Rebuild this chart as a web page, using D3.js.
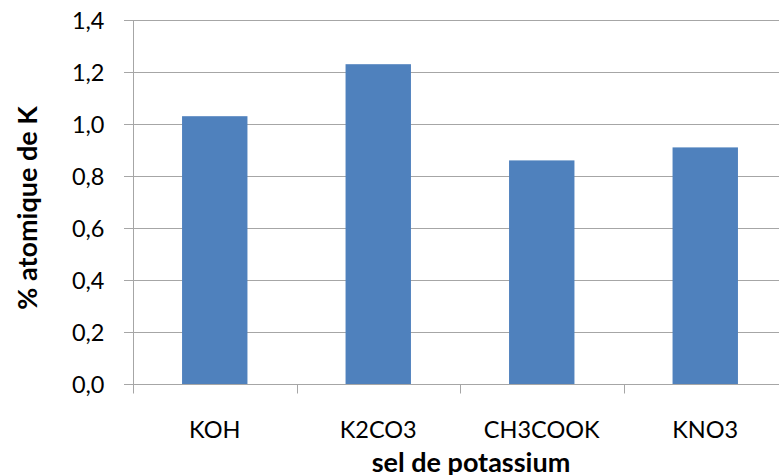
<!DOCTYPE html>
<html>
<head>
<meta charset="utf-8">
<script src="https://cdn.jsdelivr.net/npm/d3@7"></script>
<style>
  body { margin: 0; background: #fff; }
  svg { display: block; font-family: Lato, "Open Sans", sans-serif; }
</style>
</head>
<body>
<div id="chart"></div>
<script>
// data
const categories = ["KOH", "K2CO3", "CH3COOK", "KNO3"];
const values = [1.03, 1.23, 0.86, 0.91];
const yTicks = [0, 0.2, 0.4, 0.6, 0.8, 1.0, 1.2, 1.4];

const W = 779, H = 475;
const m = { left: 133, right: -8, top: 20, bottom: 91 };

const svg = d3.select("#chart").append("svg")
    .attr("width", W)
    .attr("height", H);

const x = d3.scaleBand()
    .domain(categories)
    .range([m.left, W - m.right])
    .paddingInner(0.6)
    .paddingOuter(0.3);

const y = d3.scaleLinear()
    .domain([0, 1.4])
    .range([H - m.bottom, m.top]);

const fmt = d => d.toFixed(1).replace(".", ",");

// gridlines
svg.append("g")
    .selectAll("line")
    .data(yTicks.filter(d => d > 0))
    .join("line")
    .attr("x1", m.left - 9)
    .attr("x2", W)
    .attr("y1", d => Math.round(y(d)) + 0.5)
    .attr("y2", d => Math.round(y(d)) + 0.5)
    .style("stroke", "#a6a6a6")
    .style("stroke-width", 1);

// bars
svg.append("g")
    .selectAll("rect")
    .data(values)
    .join("rect")
    .attr("x", (d, i) => x(categories[i]))
    .attr("y", d => y(d))
    .attr("width", x.bandwidth())
    .attr("height", d => y(0) - y(d))
    .style("fill", "#4f81bd");

// y axis
const yAxis = svg.append("g")
    .attr("transform", "translate(" + (m.left + 0.5) + ",0)")
    .call(d3.axisLeft(y).tickValues(yTicks).tickFormat(fmt).tickSize(9).tickPadding(20));
yAxis.select(".domain").style("stroke", "#a6a6a6").attr("d", "M0," + y(1.4) + "V" + y(0));
yAxis.selectAll(".tick line").style("stroke", "#a6a6a6");
yAxis.selectAll(".tick text")
    .attr("dy", "0.38em")
    .style("font-size", "23.5px")
    .style("fill", "#000")
    .style("font-family", "Lato, sans-serif");

// x axis
const bandEdges = categories.map(c => x(c) - x.step() * x.paddingInner() / 2);
const xAxisG = svg.append("g")
    .attr("transform", "translate(0," + (Math.round(y(0)) + 0.5) + ")");
xAxisG.append("line")
    .attr("x1", m.left - 9).attr("x2", W)
    .style("stroke", "#a6a6a6");
xAxisG.selectAll(".xt")
    .data(bandEdges)
    .join("line")
    .attr("class", "xt")
    .attr("x1", d => Math.round(d) + 0.5)
    .attr("x2", d => Math.round(d) + 0.5)
    .attr("y1", 0).attr("y2", 9)
    .style("stroke", "#a6a6a6");
xAxisG.selectAll("text")
    .data(categories)
    .join("text")
    .attr("x", d => x(d) + x.bandwidth() / 2)
    .attr("y", 53)
    .attr("text-anchor", "middle")
    .style("font-size", "23.5px")
    .text(d => d);

// axis titles
svg.append("text")
    .attr("x", 471)
    .attr("y", 472)
    .attr("text-anchor", "middle")
    .style("font-size", "27px")
    .style("font-weight", "bold")
    .text("sel de potassium");

svg.append("text")
    .attr("transform", "translate(37,208) rotate(-90)")
    .attr("text-anchor", "middle")
    .style("font-size", "27px")
    .style("font-weight", "bold")
    .text("% atomique de K");
</script>
</body>
</html>
